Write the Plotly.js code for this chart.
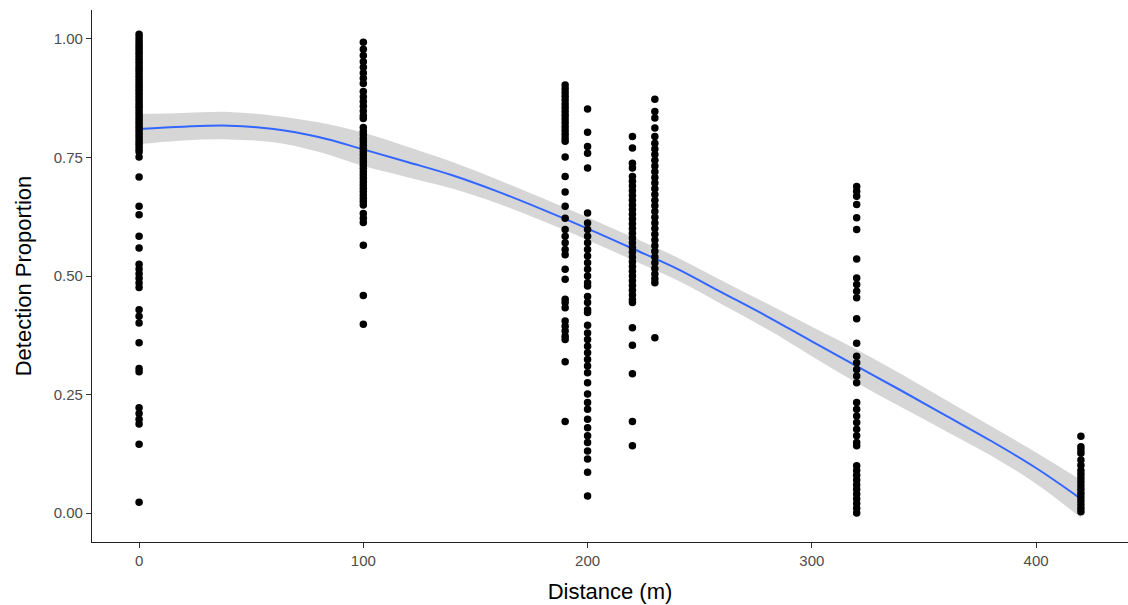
<!DOCTYPE html>
<html>
<head>
<meta charset="utf-8">
<script src="https://cdn.plot.ly/plotly-3.0.1.min.js"></script>
<style>
html,body{margin:0;padding:0;background:#fff;}
#chart{width:1128px;height:605px;}
</style>
</head>
<body>
<div id="chart"></div>
<script>
// ---- observed points: detection proportion per distance ----
const dist0 = [1.01,1.003,0.996,0.99,0.984,0.978,0.972,0.966,0.96,0.954,0.948,0.942,0.936,0.93,0.924,0.918,0.912,0.906,0.9,0.894,0.888,0.882,0.876,0.87,0.864,0.858,0.852,0.846,0.84,0.834,0.828,0.822,0.816,0.81,0.804,0.798,0.792,0.786,0.78,0.774,0.768,0.762,
  0.751,0.709,0.647,0.629,0.584,0.559,0.525,0.515,0.505,0.495,0.485,0.476,0.429,0.415,0.401,0.359,0.305,0.298,0.222,0.21,0.198,0.188,0.145,0.023];
const dist100 = [0.993,0.978,0.965,0.952,0.94,0.928,0.917,0.906,0.889,0.878,0.868,0.858,0.848,0.838,0.832,
  0.813,0.805,0.798,0.79,0.783,0.776,0.769,0.762,0.755,0.748,0.741,0.734,0.727,0.72,0.713,0.706,0.699,0.692,0.685,0.678,0.671,0.664,0.657,0.65,
  0.632,0.622,0.613,0.565,0.459,0.398];
const dist190 = [0.903,0.895,0.887,0.879,0.871,0.863,0.855,0.847,0.839,0.831,0.823,0.815,0.807,0.799,0.791,0.784,
  0.751,0.71,0.677,0.647,0.622,0.598,0.584,0.57,0.556,0.545,0.514,0.493,0.451,0.444,0.433,0.405,0.394,0.384,0.373,0.366,0.319,0.193];
const dist200 = [0.852,0.803,0.773,0.759,0.728,0.633,0.612,0.598,0.584,0.57,0.556,0.542,0.528,0.514,0.5,0.486,0.479,
  0.457,0.444,0.429,0.423,0.396,0.38,0.366,0.352,0.338,0.324,0.31,0.296,0.275,0.251,0.233,0.219,0.198,0.18,0.163,0.149,0.131,0.114,0.086,0.036];
const dist220 = [0.794,0.77,0.738,0.728,0.71,0.7,0.69,0.68,0.67,0.66,0.65,0.64,0.63,0.62,0.61,0.6,0.59,0.58,0.57,0.56,0.55,0.54,0.53,0.52,0.51,0.5,0.49,0.48,0.47,0.46,0.45,0.444,
  0.391,0.354,0.294,0.193,0.142];
const dist230 = [0.873,0.847,0.833,0.812,0.794,0.78,0.768,0.756,0.744,0.732,0.72,0.708,0.696,0.684,0.672,0.66,0.648,0.636,0.624,0.612,0.6,0.588,0.576,0.564,0.552,0.54,0.528,0.516,0.504,0.494,0.486,0.37];
const dist320 = [0.689,0.679,0.668,0.651,0.623,0.598,0.536,0.496,0.482,0.468,0.454,0.41,0.358,0.331,0.317,0.303,0.289,0.275,
  0.233,0.219,0.205,0.191,0.177,0.163,0.149,0.142,0.1,0.09,0.08,0.07,0.06,0.05,0.04,0.03,0.02,0.01,0.0];
const dist420 = [0.162,0.14,0.133,0.126,0.112,0.101,0.09,0.082,0.074,0.066,0.058,0.05,0.042,0.034,0.026,0.018,0.01,0.003];

const distances = [0,100,190,200,220,230,320,420];
const groups = [dist0,dist100,dist190,dist200,dist220,dist230,dist320,dist420];

// ---- loess fit and confidence band ----
const fitX = [0,20,40,60,80,100,120,140,160,180,200,220,240,260,280,300,320,340,360,380,400,420];
const fitY = [0.81,0.815,0.817,0.81,0.793,0.767,0.74,0.712,0.678,0.64,0.6,0.558,0.515,0.465,0.415,0.362,0.31,0.258,0.205,0.152,0.095,0.03];
const fitLo = [0.778,0.786,0.788,0.782,0.762,0.732,0.708,0.684,0.653,0.616,0.576,0.534,0.491,0.44,0.388,0.331,0.275,0.223,0.172,0.121,0.062,-0.01];
const fitHi = [0.842,0.844,0.846,0.838,0.824,0.802,0.772,0.74,0.703,0.664,0.624,0.582,0.539,0.49,0.442,0.393,0.345,0.293,0.238,0.183,0.128,0.07];

const xTicks = [0,100,200,300,400];
const yTicks = [0,0.25,0.5,0.75,1];

// build point arrays
const px = [], py = [];
groups.forEach((g,i)=>{ g.forEach(v=>{ px.push(distances[i]); py.push(v); }); });

const traces = [
  {x: fitX, y: fitLo, type:'scatter', mode:'lines', line:{width:0, shape:'spline'}, hoverinfo:'skip', showlegend:false},
  {x: fitX, y: fitHi, type:'scatter', mode:'lines', line:{width:0, shape:'spline'}, fill:'tonexty', fillcolor:'rgba(153,153,153,0.4)', hoverinfo:'skip', showlegend:false},
  {x: fitX, y: fitY, type:'scatter', mode:'lines', line:{color:'#3366FF', width:2, shape:'spline'}, showlegend:false},
  {x: px, y: py, type:'scatter', mode:'markers', marker:{color:'#000000', size:7.5}, showlegend:false}
];

const layout = {
  width:1128, height:605,
  margin:{l:92, r:0, t:10, b:63},
  paper_bgcolor:'#ffffff', plot_bgcolor:'#ffffff',
  font:{family:'"Liberation Sans", Arial, sans-serif'},
  showlegend:false,
  xaxis:{
    range:[-21,441], tickvals:xTicks, ticktext:xTicks.map(String),
    showgrid:false, zeroline:false, showline:true, linecolor:'#222', linewidth:1.1,
    ticks:'outside', ticklen:5, tickcolor:'#333', tickwidth:1,
    tickfont:{size:15, color:'#4D4D4D'},
    title:{text:'Distance (m)', font:{size:22, color:'#000'}, standoff:15}
  },
  yaxis:{
    range:[-0.061,1.061], tickvals:yTicks, ticktext:yTicks.map(v=>v.toFixed(2)),
    showgrid:false, zeroline:false, showline:true, linecolor:'#222', linewidth:1.1,
    ticks:'outside', ticklen:5, tickcolor:'#333', tickwidth:1,
    tickfont:{size:15, color:'#4D4D4D'},
    title:{text:'Detection Proportion', font:{size:22, color:'#000'}, standoff:16}
  }
};

Plotly.newPlot('chart', traces, layout, {displayModeBar:false, staticPlot:true});
</script>
</body>
</html>
